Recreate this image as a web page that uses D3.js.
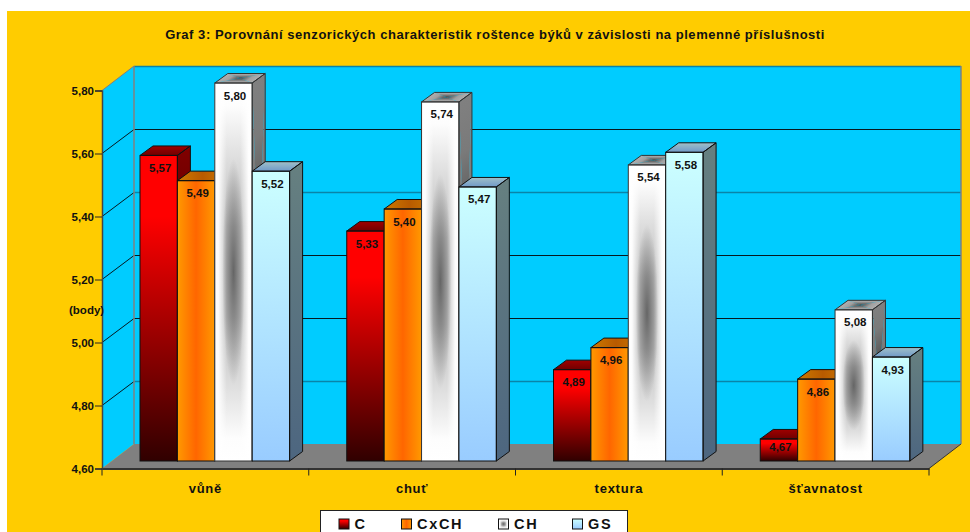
<!DOCTYPE html>
<html>
<head>
<meta charset="utf-8">
<script src="https://cdn.jsdelivr.net/npm/d3@7"></script>
<style>
  html, body { margin: 0; padding: 0; background: #fff; overflow: hidden; }
  svg { display: block; }
  text { font-family: "Liberation Sans", Arial, sans-serif; font-weight: bold; fill: #111; }
</style>
</head>
<body>
<svg id="chart" width="970" height="532"></svg>
<script>
const titleText = "Graf 3: Porovnání senzorických charakteristik roštence býků v závislosti na plemenné příslušnosti";
const categories = ["vůně", "chuť", "textura", "šťavnatost"];
const seriesNames = ["C", "CxCH", "CH", "GS"];
const valuesC = [5.57, 5.33, 4.89, 4.67];
const valuesCxCH = [5.49, 5.40, 4.96, 4.86];
const valuesCH = [5.80, 5.74, 5.54, 5.08];
const valuesGS = [5.52, 5.47, 5.58, 4.93];
const yTicks = [4.6, 4.8, 5.0, 5.2, 5.4, 5.6, 5.8];
const seriesValues = [valuesC, valuesCxCH, valuesCH, valuesGS];

const svg = d3.select("#chart");
const defs = svg.append("defs");

// Plot box of the front plane, the rest is offset from it
const plotLeft = 102, plotRight = 929, plotBottom = 468.5, plotTop = 90.5;
const depthX = 32, depthY = 24.5;      // wall depth
const barDX = 13, barDY = 9.5;         // bar depth
const barLift = 7.5;                   // bars stand a bit behind the front edge

const x = d3.scaleBand().domain(categories).range([plotLeft, plotRight]);
const inner = d3.scaleBand().domain(seriesNames).range([38, 187.6]);
const y = d3.scaleLinear().domain([4.6, 5.8]).range([plotBottom, plotTop]);
const comma = d3.formatLocale({decimal: ",", thousands: "", grouping: [3], currency: ["", ""]}).format(".2f");

function linear(id, x2, y2, stops) {
    const g = defs.append("linearGradient").attr("id", id)
        .attr("x1", 0).attr("y1", 0).attr("x2", x2).attr("y2", y2);
    stops.forEach(s => g.append("stop").attr("offset", s[0]).attr("stop-color", s[1])
        .attr("stop-opacity", s[2] === undefined ? 1 : s[2]));
}

// Gradients for every series and face
linear("cFront", 0, 1, [[0, "#ff0000"], [0.2, "#ff0000"], [1, "#300000"]]);
linear("cSide", 0, 1, [[0, "#800000"], [1, "#1a0000"]]);
linear("cTop", 0, 1, [[0, "#a00000"], [1, "#700000"]]);
linear("oFront", 1, 0, [[0, "#ff9900"], [0.5, "#ff6600"], [1, "#ff9900"]]);
linear("oSide", 0, 1, [[0, "#804c00"], [1, "#803300"]]);
linear("oTop", 1, 0, [[0, "#cc7a00"], [0.5, "#b85a00"], [1, "#cc7a00"]]);
linear("gFront", 0, 1, [[0, "#ccffff"], [1, "#99ccff"]]);
linear("gSide", 0, 1, [[0, "#668080"], [1, "#4d6680"]]);
linear("gTop", 0, 1, [[0, "#a0c0c8"], [1, "#6f99c8"]]);

// CH front: vertical grey band, white edges on top of it, dark spot in the middle
linear("chBand", 0, 1, [[0, "#ffffff"], [0.06, "#fdfdfd"], [0.2, "#dedede"], [0.38, "#bdbdbd"],
    [0.62, "#bdbdbd"], [0.8, "#dedede"], [0.94, "#fdfdfd"], [1, "#ffffff"]]);
linear("chEdges", 1, 0, [[0, "#ffffff", 1], [0.1, "#ffffff", 0.95], [0.32, "#ffffff", 0],
    [0.68, "#ffffff", 0], [0.9, "#ffffff", 0.95], [1, "#ffffff", 1]]);
const spot = defs.append("radialGradient").attr("id", "chSpot");
spot.append("stop").attr("offset", 0).attr("stop-color", "#5c5c5c").attr("stop-opacity", 0.9);
spot.append("stop").attr("offset", 1).attr("stop-color", "#5c5c5c").attr("stop-opacity", 0);

function chFront(g, px, py, w, h) {
    ["chBand", "chEdges"].forEach(id => {
        g.append("rect").attr("x", px).attr("y", py).attr("width", w).attr("height", h)
            .attr("fill", `url(#${id})`);
    });
    g.append("ellipse").attr("cx", px + w / 2).attr("cy", py + h / 2)
        .attr("rx", w * 0.3).attr("ry", h * 0.3).attr("fill", "url(#chSpot)");
}

// Top and side of the CH bars run to the centre of the face, made of 4 triangles
function pathGradient(id, edge, mid, center) {
    linear(id + "T", 0, 1, [[0, edge], [0.3, mid], [1, center]]);
    linear(id + "B", 0, 1, [[0, center], [0.7, mid], [1, edge]]);
    linear(id + "L", 1, 0, [[0, edge], [0.45, mid], [1, center]]);
    linear(id + "R", 1, 0, [[0, center], [0.55, mid], [1, edge]]);
}
pathGradient("hSide", "#808080", "#7a7a7a", "#383838");
pathGradient("hTop", "#b0b0b0", "#a0a0a0", "#484848");

function pts(list) { return list.map(p => p.join(",")).join(" "); }

// Fill a parallelogram (origin, u, v) with the centre gradient
function centerFace(g, id, o, u, v) {
    const f = g.append("g").attr("transform", `matrix(${u[0]},${u[1]},${v[0]},${v[1]},${o[0]},${o[1]})`);
    const tris = [
        ["T", "0,0 1,0 0.5,0.5"],
        ["B", "0,1 1,1 0.5,0.5"],
        ["L", "0,0 0,1 0.5,0.5"],
        ["R", "1,0 1,1 0.5,0.5"]
    ];
    tris.forEach(t => f.append("polygon").attr("points", t[1])
        .attr("fill", `url(#${id + t[0]})`));
}

// Chart area
svg.append("rect").attr("x", 7).attr("y", 11).attr("width", 963).attr("height", 521).attr("fill", "#ffcc00");

svg.append("text").attr("x", 495).attr("y", 39).attr("text-anchor", "middle")
    .style("font-size", "13px").style("letter-spacing", "0.53px").text(titleText);

// Walls and floor
const walls = svg.append("g");
walls.append("rect").attr("x", plotLeft + depthX).attr("y", plotTop - depthY)
    .attr("width", plotRight - plotLeft).attr("height", plotBottom - plotTop).attr("fill", "#00ccff");
walls.append("polygon")
    .attr("points", pts([[plotLeft, plotBottom], [plotLeft + depthX, plotBottom - depthY], [plotLeft + depthX, plotTop - depthY], [plotLeft, plotTop]]))
    .attr("fill", "#00ccff");
walls.append("polygon")
    .attr("points", pts([[plotLeft, plotBottom], [plotRight, plotBottom], [plotRight + depthX, plotBottom - depthY], [plotLeft + depthX, plotBottom - depthY]]))
    .attr("fill", "#808080");

// Gridlines, some of them come out thicker and teal in the reference
const softLines = [4.8, 5.4, 5.8];
yTicks.slice(1).forEach(t => {
    const soft = softLines.includes(t);
    const c = soft ? "#0a84a8" : "#061820";
    walls.append("line").attr("x1", plotLeft + depthX).attr("x2", plotRight + depthX)
        .attr("y1", y(t) - depthY + 0.5).attr("y2", y(t) - depthY + 0.5)
        .attr("stroke", c).attr("stroke-width", soft ? 1.5 : 1);
    if (t < 5.8) {
        walls.append("line").attr("x1", plotLeft).attr("x2", plotLeft + depthX)
            .attr("y1", y(t)).attr("y2", y(t) - depthY + 0.5)
            .attr("stroke", "#061820").attr("stroke-width", 1);
    }
});
[plotLeft + depthX, plotRight + depthX].forEach(px => {
    walls.append("line").attr("x1", px).attr("x2", px)
        .attr("y1", plotTop - depthY).attr("y2", plotBottom - depthY)
        .attr("stroke", "#808080").attr("stroke-width", 1.5);
});
walls.append("line").attr("x1", plotLeft).attr("x2", plotLeft + depthX)
    .attr("y1", plotTop).attr("y2", plotTop - depthY).attr("stroke", "#808080");
walls.append("line").attr("x1", plotRight).attr("x2", plotRight + depthX)
    .attr("y1", plotBottom).attr("y2", plotBottom - depthY).attr("stroke", "#333");

// Bars
const bars = svg.append("g");
categories.forEach((cat, ci) => {
    seriesNames.forEach((name, si) => {
        const v = seriesValues[si][ci];
        const x0 = x(cat) + inner(name);
        const w = inner.bandwidth();
        const y0 = y(v) - barLift;
        const y1 = plotBottom - barLift;
        const h = y1 - y0;
        const g = bars.append("g");
        const side = [[x0 + w, y0], [x0 + w + barDX, y0 - barDY], [x0 + w + barDX, y1 - barDY], [x0 + w, y1]];
        const cap = [[x0, y0], [x0 + barDX, y0 - barDY], [x0 + w + barDX, y0 - barDY], [x0 + w, y0]];
        const edge = si === 2 ? "#333" : "#111";

        if (si === 2) {
            centerFace(g, "hSide", [x0 + w, y0], [barDX, -barDY], [0, h]);
            centerFace(g, "hTop", [x0, y0], [w, 0], [barDX, -barDY]);
            chFront(g, x0, y0, w, h);
        } else {
            const key = ["c", "o", "", "g"][si];
            g.append("polygon").attr("points", pts(side)).attr("fill", `url(#${key}Side)`);
            g.append("polygon").attr("points", pts(cap)).attr("fill", `url(#${key}Top)`);
            g.append("rect").attr("x", x0).attr("y", y0).attr("width", w).attr("height", h)
                .attr("fill", `url(#${key}Front)`);
        }
        [side, cap].forEach(p => g.append("polygon").attr("points", pts(p))
            .attr("fill", "none").attr("stroke", edge).attr("stroke-width", 1));
        g.append("rect").attr("x", x0).attr("y", y0).attr("width", w).attr("height", h)
            .attr("fill", "none").attr("stroke", edge).attr("stroke-width", 1);

        g.append("text").attr("x", x0 + w / 2 + 1.5).attr("y", y0 + Math.min(16.5, h * 0.55))
            .attr("text-anchor", "middle").style("font-size", "11.5px").text(comma(v));
    });
});

// Axes
const yAxis = svg.append("g").attr("transform", `translate(${plotLeft},0)`)
    .call(d3.axisLeft(y).tickValues(yTicks).tickFormat(comma).tickSize(7).tickPadding(1));
yAxis.selectAll("text").style("font-size", "11.5px");
yAxis.selectAll("line").attr("stroke", "#222");
yAxis.select(".domain").attr("stroke", "#444").attr("stroke-width", 1.5);

const xAxis = svg.append("g").attr("transform", `translate(0,${plotBottom})`)
    .call(d3.axisBottom(x).tickSize(0).tickPadding(11));
xAxis.selectAll("text").attr("dy", "1.05em").style("font-size", "13px").style("letter-spacing", "0.75px");
xAxis.select(".domain").attr("stroke", "#333").attr("stroke-width", 2);
d3.range(categories.length + 1).forEach(i => {
    xAxis.append("line").attr("x1", plotLeft + i * x.step()).attr("x2", plotLeft + i * x.step())
        .attr("y1", 0).attr("y2", 7).attr("stroke", "#222");
});

svg.append("text").attr("x", 69).attr("y", 314).style("font-size", "11.5px").text("(body)");

// Legend runs off the bottom of the picture
const legendX = [339, 401.5, 498.5, 572.5];
const legend = svg.append("g");
legend.append("rect").attr("x", 320.5).attr("y", 510.5).attr("width", 307).attr("height", 30)
    .attr("fill", "#fff").attr("stroke", "#222");
seriesNames.forEach((name, i) => {
    const g = legend.append("g");
    if (i === 2) {
        chFront(g, legendX[i], 519, 10, 10);
        g.append("rect").attr("x", legendX[i]).attr("y", 519).attr("width", 10).attr("height", 10)
            .attr("fill", "none").attr("stroke", "#111");
    } else {
        g.append("rect").attr("x", legendX[i]).attr("y", 519).attr("width", 10).attr("height", 10)
            .attr("fill", `url(#${["c", "o", "", "g"][i]}Front)`).attr("stroke", "#111");
    }
    g.append("text").attr("x", legendX[i] + 15.5).attr("y", 528.5)
        .style("font-size", "14.5px").style("letter-spacing", "1.7px").text(name);
});
</script>
</body>
</html>
